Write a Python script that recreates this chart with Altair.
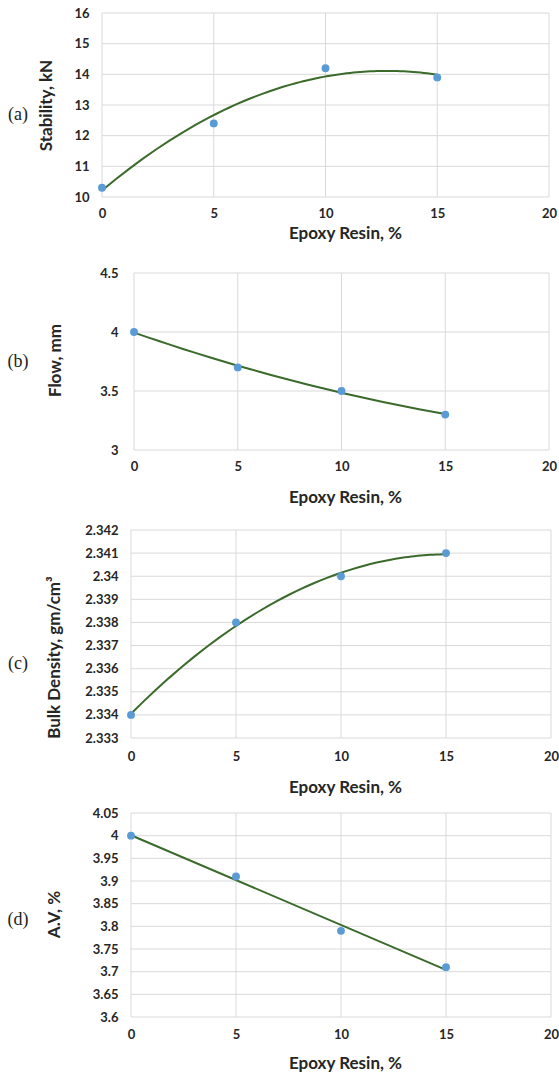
import altair as alt
import pandas as pd

# ---------------- data ----------------
epoxy = [0, 5, 10, 15]
stability = [10.3, 12.4, 14.2, 13.9]
flow = [4.0, 3.7, 3.5, 3.3]
density = [2.334, 2.338, 2.340, 2.341]
air_voids = [4.0, 3.91, 3.79, 3.71]

x_ticks = [0, 5, 10, 15, 20]
stability_ticks = [10, 11, 12, 13, 14, 15, 16]
flow_ticks = [3, 3.5, 4, 4.5]
density_ticks = [2.333, 2.334, 2.335, 2.336, 2.337, 2.338, 2.339, 2.34, 2.341, 2.342]
av_ticks = [3.6, 3.65, 3.7, 3.75, 3.8, 3.85, 3.9, 3.95, 4.0, 4.05]

panel_labels = ["(a)", "(b)", "(c)", "(d)"]
y_titles = ["Stability, kN", "Flow, mm", "Bulk Density, gm/cm³", "A.V, %"]
x_title = "Epoxy Resin, %"

W, H = 559, 1074
GRID = "#d9d9d9"
BLUE = "#5b9bd5"
GREEN = "#3b6b2b"
TXT = "#262626"
FONT = "Lato"
TICK_FS = 13
TITLE_FS = 17


def panel(values, ticks, ytitle, label, method, lay):
    left, right, top, bottom = lay["box"]
    xs = alt.Scale(domain=[x_ticks[0], x_ticks[-1]], range=[left, right], nice=False, zero=False)
    ys = alt.Scale(domain=[ticks[0], ticks[-1]], range=[bottom, top], nice=False, zero=False)
    xaxis = alt.Axis(
        orient="bottom", offset=bottom - H, values=x_ticks, title=x_title,
        ticks=False, domain=False, grid=False, labelPadding=lay["xlp"],
        labelFont=FONT, labelFontWeight="bold", labelFontSize=TICK_FS,
        labelColor=TXT, labelFlush=False, titleFont=FONT,
        titleFontWeight="bold", titleFontSize=TITLE_FS, titleColor=TXT,
        titleX=345, titleY=lay["xty"], titleBaseline="middle",
        titleAlign="center",
    )
    yaxis = alt.Axis(
        orient="left", offset=-left, values=ticks, format="~g", title=ytitle,
        ticks=False, domain=False, grid=False, labelPadding=lay["ylp"],
        labelFont=FONT, labelFontWeight="bold", labelFontSize=TICK_FS,
        labelColor=TXT, titleFont=FONT, titleFontWeight="bold",
        titleFontSize=TITLE_FS, titleColor=TXT, titleX=lay["ytx"],
        titleY=lay["yty"], titleBaseline="middle", titleAlign="center",
    )
    df = pd.DataFrame({"x": epoxy, "y": values})
    gx = pd.DataFrame({"x": x_ticks, "y": [ticks[0]] * len(x_ticks), "y2": [ticks[-1]] * len(x_ticks)})
    gy = pd.DataFrame({"y": ticks, "x": [x_ticks[0]] * len(ticks), "x2": [x_ticks[-1]] * len(ticks)})
    X = alt.X("x:Q", scale=xs, axis=xaxis)
    Y = alt.Y("y:Q", scale=ys, axis=yaxis)

    vgrid = alt.Chart(gx).mark_rule(color=GRID, strokeWidth=1).encode(x=X, y=Y, y2="y2:Q")
    hgrid = alt.Chart(gy).mark_rule(color=GRID, strokeWidth=1).encode(x=X, x2="x2:Q", y=Y)
    if method == "linear":
        reg = alt.Chart(df).transform_regression("x", "y", method="linear", extent=[0, 15])
    else:
        reg = alt.Chart(df).transform_regression("x", "y", method="poly", order=2, extent=[0, 15])
    line = reg.mark_line(color=GREEN, strokeWidth=2).encode(x=X, y=Y)
    pts = alt.Chart(df).mark_point(filled=True, size=62, color=BLUE, opacity=1).encode(x=X, y=Y)
    lab = alt.Chart(pd.DataFrame({"t": [label]})).mark_text(
        font="Liberation Serif", fontSize=18, color="#222222",
        align="center", baseline="middle",
    ).encode(text="t:N", x=alt.value(lay["lx"]), y=alt.value(lay["ly"]))
    return alt.layer(vgrid, hgrid, line, pts, lab)


lay_a = dict(box=(102, 549, 13, 197), xlp=10, xty=36, ylp=13, ytx=-56, yty=105, lx=18, ly=115)
lay_b = dict(box=(134, 549, 273, 450), xlp=10, xty=47, ylp=16, ytx=-79, yty=360, lx=18, ly=362)
lay_c = dict(box=(131, 551, 530, 738), xlp=12, xty=49, ylp=13, ytx=-77, yty=657, lx=18, ly=664)
lay_d = dict(box=(131, 551, 813, 1017), xlp=11, xty=46, ylp=13, ytx=-77, yty=914, lx=18, ly=920)

pa = panel(stability, stability_ticks, y_titles[0], panel_labels[0], "poly", lay_a)
pb = panel(flow, flow_ticks, y_titles[1], panel_labels[1], "poly", lay_b)
pc = panel(density, density_ticks, y_titles[2], panel_labels[2], "poly", lay_c)
pd_ = panel(air_voids, av_ticks, y_titles[3], panel_labels[3], "linear", lay_d)

chart = (
    alt.layer(pa, pb, pc, pd_)
    .resolve_scale(x="independent", y="independent")
    .resolve_axis(x="independent", y="independent")
    .properties(
        width=W, height=H, padding=0, background="white",
        autosize=alt.AutoSizeParams(type="none"),
    )
    .configure_view(stroke="transparent")
)

chart.save("out.html", embed_options={"renderer": "svg", "actions": False})
